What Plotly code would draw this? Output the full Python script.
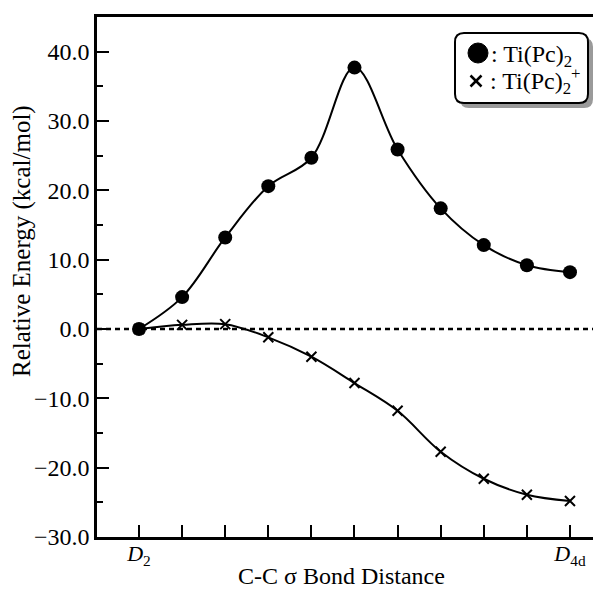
import plotly.graph_objects as go

# ---- data ----
steps = list(range(11))
label_steps = [0, 10]
tick_labels = ["<i>D</i><sub>2</sub>", "<i>D</i><sub>4d</sub>"]
neutral_energy = [0.0, 4.6, 13.2, 20.6, 24.7, 37.7, 25.9, 17.4, 12.1, 9.2, 8.2]
cation_energy = [0.0, 0.6, 0.7, -1.2, -4.0, -7.8, -11.8, -17.7, -21.6, -23.9, -24.8]
y_tick_vals = [-30, -20, -10, 0, 10, 20, 30, 40]
y_tick_text = ["−30.0", "−20.0", "−10.0", "0.0", "10.0", "20.0", "30.0", "40.0"]
y_minor_vals = [-25, -15, -5, 5, 15, 25, 35]
label_neutral = ": Ti(Pc)<sub>2</sub>"
label_cation = ": Ti(Pc)<sub>2</sub><sup>+</sup>"

FONT = "Liberation Serif"
OFF = 8  # page body margin
W, H = 601 - OFF, 591 - OFF
L, R, T, B = 89, 0, 9, 54


def fx(x):
    # page pixel x -> paper
    return (x - OFF - L) / (W - L - R)


def fy(y):
    # page pixel y -> paper
    return (H - B - (y - OFF)) / (H - B - T)


def rounded(x0, y0, x1, y1, r):
    pts = [
        f"M {fx(x0 + r)} {fy(y0)}",
        f"L {fx(x1 - r)} {fy(y0)}",
        f"Q {fx(x1)} {fy(y0)} {fx(x1)} {fy(y0 + r)}",
        f"L {fx(x1)} {fy(y1 - r)}",
        f"Q {fx(x1)} {fy(y1)} {fx(x1 - r)} {fy(y1)}",
        f"L {fx(x0 + r)} {fy(y1)}",
        f"Q {fx(x0)} {fy(y1)} {fx(x0)} {fy(y1 - r)}",
        f"L {fx(x0)} {fy(y0 + r)}",
        f"Q {fx(x0)} {fy(y0)} {fx(x0 + r)} {fy(y0)}",
        "Z",
    ]
    return " ".join(pts)


fig = go.Figure()

fig.add_trace(go.Scatter(
    x=steps, y=neutral_energy, mode="lines+markers", name="Ti(Pc)2",
    line=dict(color="black", width=2, shape="spline", smoothing=1.0),
    marker=dict(symbol="circle", size=14, color="black"),
    showlegend=False,
))
fig.add_trace(go.Scatter(
    x=steps, y=cation_energy, mode="lines+markers", name="Ti(Pc)2+",
    line=dict(color="black", width=2, shape="spline", smoothing=1.0),
    marker=dict(symbol="x-thin", size=10, color="black", line=dict(width=2, color="black")),
    showlegend=False,
))

# legend decoration (box, shadow, symbols)
cx1, cy1, rr = 478, 53, 10
cx2, cy2, hs = 476, 81, 5.5
shapes = [
    dict(type="line", xref="paper", yref="y", x0=0, x1=1, y0=0, y1=0,
         line=dict(color="black", width=2.5, dash="5px,4px"), layer="below"),
    dict(type="path", xref="paper", yref="paper", path=rounded(460, 38, 593, 108, 9),
         fillcolor="#9a9a9a", line=dict(width=0), layer="above"),
    dict(type="path", xref="paper", yref="paper", path=rounded(455, 33, 588, 103, 9),
         fillcolor="white", line=dict(color="black", width=2), layer="above"),
    dict(type="circle", xref="paper", yref="paper",
         x0=fx(cx1 - rr), x1=fx(cx1 + rr), y0=fy(cy1 + rr), y1=fy(cy1 - rr),
         fillcolor="black", line=dict(color="black", width=1), layer="above"),
    dict(type="line", xref="paper", yref="paper",
         x0=fx(cx2 - hs), x1=fx(cx2 + hs), y0=fy(cy2 - hs), y1=fy(cy2 + hs),
         line=dict(color="black", width=2.5), layer="above"),
    dict(type="line", xref="paper", yref="paper",
         x0=fx(cx2 - hs), x1=fx(cx2 + hs), y0=fy(cy2 + hs), y1=fy(cy2 - hs),
         line=dict(color="black", width=2.5), layer="above"),
]

annotations = [
    dict(text="Relative Energy (kcal/mol)", textangle=-90, xref="paper", yref="paper",
         x=fx(22), y=fy(241), showarrow=False, font=dict(family=FONT, size=25),
         xanchor="center", yanchor="middle"),
    dict(text="C-C σ Bond Distance", xref="paper", yref="paper",
         x=fx(341), y=fy(576), showarrow=False, font=dict(family=FONT, size=24),
         xanchor="center", yanchor="middle"),
    dict(text=label_neutral, xref="paper", yref="paper",
         x=fx(489), y=fy(56), showarrow=False, font=dict(family=FONT, size=24),
         xanchor="left", yanchor="middle"),
    dict(text=label_cation, xref="paper", yref="paper",
         x=fx(488), y=fy(81), showarrow=False, font=dict(family=FONT, size=24),
         xanchor="left", yanchor="middle"),
]

fig.update_layout(
    width=W, height=H,
    margin=dict(l=L, r=R, t=T, b=B, autoexpand=False),
    paper_bgcolor="white", plot_bgcolor="white",
    font=dict(family=FONT, size=24, color="black"),
    shapes=shapes,
    showlegend=False,
    annotations=annotations,
)

fig.update_xaxes(
    range=[-0.975, 10.72], tickmode="array", tickvals=label_steps, ticktext=tick_labels,
    ticks="inside", ticklen=12, tickwidth=2, tickcolor="black",
    minor=dict(tickvals=steps[1:-1], ticks="inside", ticklen=12,
               tickwidth=2, tickcolor="black", showgrid=False),
    showline=True, linewidth=2.5, linecolor="black", mirror=True,
    showgrid=False, zeroline=False, ticklabelstandoff=-5,
    tickfont=dict(family=FONT, size=22),
)
fig.update_yaxes(
    range=[-30, 45], tickmode="array", tickvals=y_tick_vals, ticktext=y_tick_text,
    ticks="inside", ticklen=12, tickwidth=2, tickcolor="black",
    minor=dict(tickvals=y_minor_vals, ticks="inside", ticklen=6,
               tickwidth=2, tickcolor="black", showgrid=False),
    showline=True, linewidth=2.5, linecolor="black", mirror=False,
    showgrid=False, zeroline=False,
    tickfont=dict(family=FONT, size=24),
)

fig.write_html("out.html")
